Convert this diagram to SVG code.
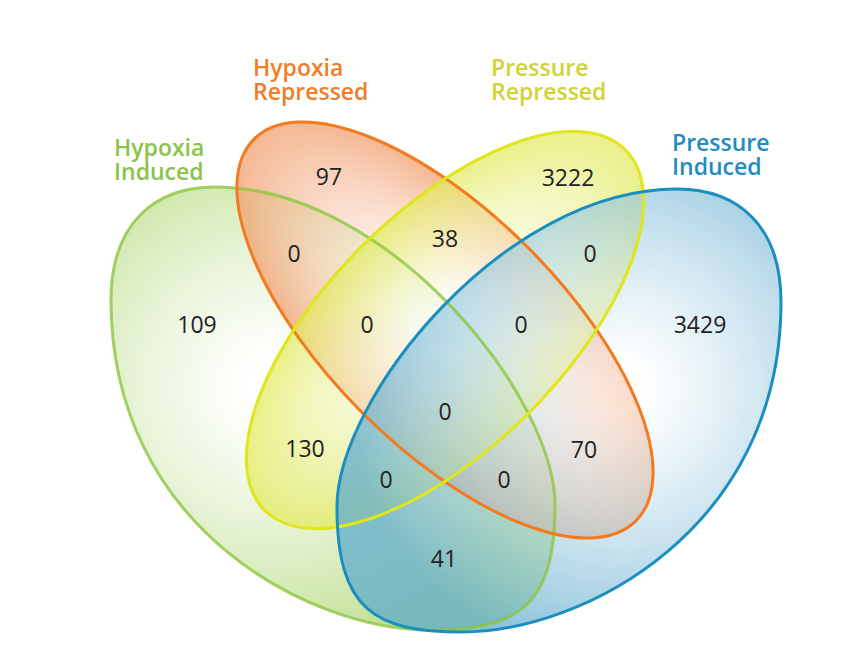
<svg xmlns="http://www.w3.org/2000/svg" width="865" height="665" viewBox="0 0 865 665">
<style>
.set{stroke:none}
.ol{fill:none;stroke-width:3}
.num{font-family:"Open Sans","Liberation Sans",sans-serif;font-size:23px;fill:#222;text-anchor:middle}
.lab{font-family:"Open Sans","Liberation Sans",sans-serif;font-size:23px;font-weight:600}
</style>
<defs>
<radialGradient id="gG" cx="0.36" cy="0.45" r="0.62"><stop offset="0.08" stop-color="#ffffff" stop-opacity="0.5"/><stop offset="1" stop-color="#a9d469" stop-opacity="0.75"/></radialGradient>
<radialGradient id="gO" cx="0.5" cy="0.5" r="0.5"><stop offset="0.15" stop-color="#ffffff" stop-opacity="0.5"/><stop offset="1" stop-color="#f19b69" stop-opacity="0.72"/></radialGradient>
<radialGradient id="gY" cx="0.5" cy="0.5" r="0.5"><stop offset="0.15" stop-color="#ffffff" stop-opacity="0.5"/><stop offset="1" stop-color="#e2ea5b" stop-opacity="0.72"/></radialGradient>
<radialGradient id="gB" cx="0.64" cy="0.45" r="0.62"><stop offset="0.08" stop-color="#ffffff" stop-opacity="0.5"/><stop offset="1" stop-color="#5ba9cd" stop-opacity="0.72"/></radialGradient>
</defs>
<rect width="865" height="665" fill="#ffffff"/>
<g id="hypoxia-induced">
<path class="set" fill="url(#gG)" d="M215,187 C388,187 555,396 555,505 C555,608 517,630 430,630 C309,630 111,527 111,300 C111,224 154,187 215,187 Z"/>
</g>
<g id="hypoxia-repressed">
<ellipse class="set" fill="url(#gO)" cx="445" cy="330" rx="270" ry="117" transform="rotate(45 445 330)"/>
</g>
<g id="pressure-repressed">
<ellipse class="set" fill="url(#gY)" cx="445" cy="330" rx="255" ry="118" transform="rotate(-45 445 330)"/>
</g>
<g id="pressure-induced">
<path class="set" fill="url(#gB)" d="M677,189 C504,189 337,398 337,507 C337,610 375,632 462,632 C583,632 781,529 781,302 C781,226 738,189 677,189 Z"/>
</g>
<g id="outlines">
<path class="ol" stroke="#8cc63f" stroke-opacity="0.8" d="M215,187 C388,187 555,396 555,505 C555,608 517,630 430,630 C309,630 111,527 111,300 C111,224 154,187 215,187 Z"/>
<ellipse class="ol" stroke="#f47a20" cx="445" cy="330" rx="270" ry="117" transform="rotate(45 445 330)"/>
<ellipse class="ol" stroke="#dfe61a" cx="445" cy="330" rx="255" ry="118" transform="rotate(-45 445 330)"/>
<path class="ol" stroke="#1b8ec0" d="M677,189 C504,189 337,398 337,507 C337,610 375,632 462,632 C583,632 781,529 781,302 C781,226 738,189 677,189 Z"/>
</g>
<g id="labels" class="lab">
<text x="114" y="156" fill="#8bc34a">Hypoxia</text>
<text x="114" y="180" fill="#8bc34a">Induced</text>
<text x="253" y="76" fill="#f07d28">Hypoxia</text>
<text x="253" y="100" fill="#f07d28">Repressed</text>
<text x="491" y="76" fill="#d2d236">Pressure</text>
<text x="491" y="100" fill="#d2d236">Repressed</text>
<text x="672" y="151" fill="#1f8bbf">Pressure</text>
<text x="672" y="175" fill="#1f8bbf">Induced</text>
</g>
<g id="counts" class="num">
<text x="329" y="185">97</text>
<text x="568" y="186">3222</text>
<text x="197" y="333">109</text>
<text x="294" y="262">0</text>
<text x="445" y="247">38</text>
<text x="590" y="262">0</text>
<text x="367" y="333">0</text>
<text x="521" y="333">0</text>
<text x="700" y="333">3429</text>
<text x="445" y="420">0</text>
<text x="305" y="457">130</text>
<text x="584" y="458">70</text>
<text x="386" y="488">0</text>
<text x="504" y="488">0</text>
<text x="444" y="567">41</text>
</g>
</svg>
